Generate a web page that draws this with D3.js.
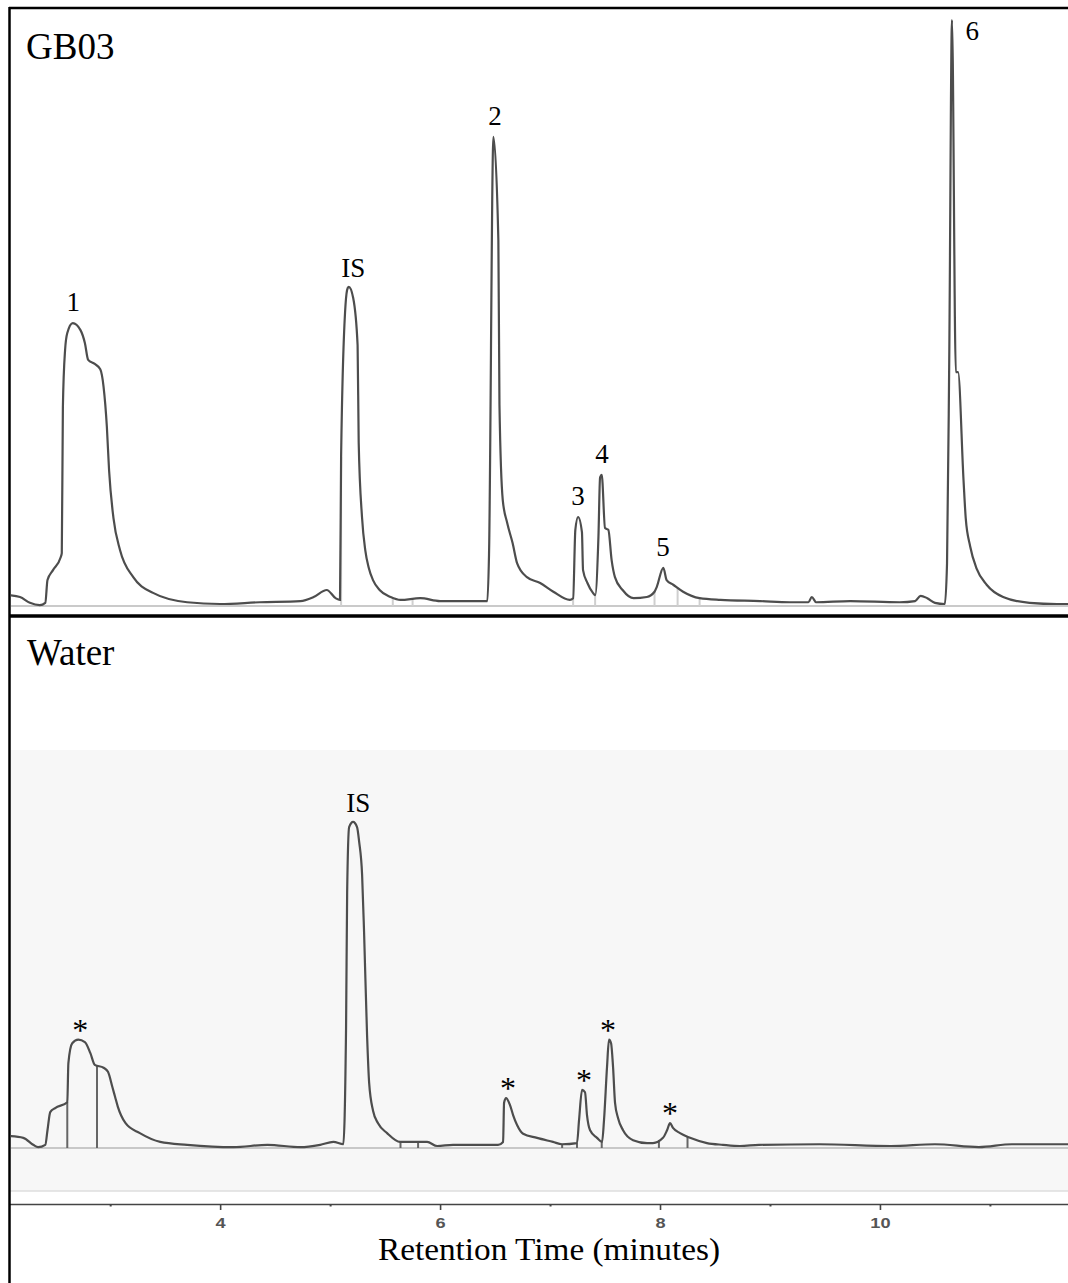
<!DOCTYPE html>
<html>
<head>
<meta charset="utf-8">
<script src="https://cdn.jsdelivr.net/npm/d3@7"></script>
<style>
body { margin: 0; background: #fff; }
svg { display: block; }
.serif { font-family: "Liberation Serif", "Times New Roman", serif; fill: #000; }
</style>
</head>
<body>
<svg id="chart" width="1068" height="1283"></svg>
<script>
// [retention time (min), signal]
const gb03Trace = [
    [2.08,1.5],[2.18,1.2],[2.27,0.2],[2.36,-0.2],[2.41,0.2],[2.43,4.1],[2.48,5.8],[2.55,8.0],[2.56,8.7],
    [2.57,33.7],[2.59,43.5],[2.61,46.4],[2.66,48.1],[2.73,46.9],[2.77,44.7],[2.80,41.8],[2.86,41.1],
    [2.91,40.2],[2.94,37.2],[2.97,30.3],[2.99,22.9],[3.03,14.7],[3.09,9.2],[3.21,4.6],[3.39,1.9],
    [3.70,0.3],[4.00,0],[4.36,0.3],[4.73,0.5],[4.85,1.2],[4.97,2.4],[5.05,1.0],[5.09,0.7],
    [5.10,25.2],[5.14,51.2],[5.16,54.1],[5.17,54.3],[5.21,52.4],[5.25,44.3],[5.26,27.6],[5.29,14.9],
    [5.32,9.2],[5.35,6.3],[5.39,4.1],[5.45,2.4],[5.55,1.2],[5.64,0.7],[5.82,1.0],[6.00,0.5],[6.27,0.5],
    [6.43,0.5],[6.445,8.4],[6.485,80.0],[6.53,62.3],[6.54,34.1],[6.57,17.8],[6.61,13.9],
    [6.66,10.4],[6.70,7.0],[6.79,4.6],[6.91,3.6],[7.03,2.1],[7.18,0.7],[7.21,1.0],[7.23,12.7],
    [7.255,14.9],[7.29,12.3],[7.30,5.8],[7.34,3.6],[7.39,1.9],[7.41,1.5],[7.44,11.5],[7.455,21.7],
    [7.47,22.1],[7.50,13.0],[7.53,12.7],[7.56,7.5],[7.59,4.6],[7.66,2.4],[7.76,1.0],[7.88,1.2],
    [7.95,2.1],[7.97,2.9],[8.03,6.2],[8.06,4.1],[8.12,3.3],[8.21,2.1],[8.36,1.0],[8.55,0.7],
    [8.91,0.5],[9.18,0.3],[9.35,0.3],[9.38,1.2],[9.42,0.3],[9.73,0.5],[10.18,0.3],[10.32,0.5],
    [10.37,1.4],[10.43,1.0],[10.50,0.2],[10.59,0],[10.61,7.0],[10.63,41.8],[10.655,100],
    [10.69,39.7],[10.71,39.7],[10.76,21.2],[10.78,14.7],[10.82,9.9],[10.88,6.0],[10.97,3.3],
    [11.12,1.2],[11.36,0.2],[11.61,0],[11.71,0]
];

const waterTrace = [
    [2.08,1.7],[2.21,1.4],[2.30,0.2],[2.345,-0.2],[2.41,0.2],[2.43,2.7],[2.455,5.8],[2.50,6.5],
    [2.61,7.5],[2.62,14.2],[2.655,17.6],[2.71,18.2],[2.77,17.8],[2.82,15.9],[2.86,13.9],[2.94,13.4],
    [2.98,12.7],[3.02,10.1],[3.045,8.4],[3.07,6.7],[3.14,3.9],[3.27,2.2],[3.455,0.7],[3.70,0.2],
    [4.12,-0.2],[4.43,0.2],[4.73,-0.2],[4.91,0.2],[5.03,0.7],[5.12,0.3],[5.145,20.2],[5.155,43.5],
    [5.173,54.6],[5.209,55.5],[5.245,54.6],[5.264,52.1],[5.291,46.4],[5.309,36.5],[5.336,19.0],
    [5.355,10.8],[5.391,6.0],[5.436,3.9],[5.518,2.2],[5.636,0.7],[5.755,0.7],[5.882,0.7],[5.973,0],
    [6.118,0.2],[6.364,0.2],[6.527,0.2],[6.573,0.7],[6.582,7.4],[6.60,8.2],[6.636,7.0],[6.664,5.3],
    [6.70,3.6],[6.755,2.1],[6.882,1.4],[7.027,0.7],[7.109,0.3],[7.245,0.5],[7.264,4.5],[7.291,9.6],
    [7.318,9.2],[7.336,5.3],[7.364,2.7],[7.427,1.4],[7.473,0.7],[7.491,4.5],[7.518,13.5],[7.536,18.2],
    [7.555,17.6],[7.573,13.5],[7.591,7.4],[7.618,4.8],[7.664,2.7],[7.755,1.0],[7.882,0.5],[7.936,0.5],
    [8.027,1.4],[8.064,2.7],[8.091,3.9],[8.118,3.1],[8.182,2.2],[8.273,1.4],[8.427,0.5],[8.573,0.2],
    [8.727,0],[8.90,0.2],[9.45,0.3],[10.10,0],[10.50,0.3],[10.90,-0.2],[11.20,0.3],[11.71,0.3]
];

// peak labels and where they sit (time, peak height)
const gb03Labels = ["1", "IS", "2", "3", "4", "5", "6"];
const gb03LabelPos = [[2.664,48.1],[5.21,54.3],[6.50,80],[7.255,14.9],[7.473,22.1],[8.027,6.2],[10.84,100]];
const waterLabels = ["*", "IS", "*", "*", "*", "*"];
const waterLabelPos = [[2.727,18.2],[5.255,55.5],[6.618,8.2],[7.309,9.6],[7.527,18.2],[8.091,3.9]];

// integration cut marks (minutes)
const gb03Cuts = [5.10, 5.57, 5.75, 7.21, 7.41, 7.95, 8.16, 8.36];
const waterCuts = [2.61, 2.88, 5.64, 5.80, 7.11, 7.245, 7.47, 7.99, 8.25];

const majorTicks = [4, 6, 8, 10];
const minorTicks = [3, 5, 7, 9, 11];

const left = 9, right = 1068;
let svg = d3.select("#chart");

let x = d3.scaleLinear().domain([2.08, 11.71]).range([left, right]);
let yTop = d3.scaleLinear().domain([0, 100]).range([604, 20]);
let yBot = d3.scaleLinear().domain([0, 100]).range([1146, 562]);

svg.append("defs").append("clipPath").attr("id", "plotclip")
    .append("rect").attr("x", left + 2).attr("y", 0).attr("width", right - left).attr("height", 1283);

// shaded area behind the water trace
svg.append("rect")
    .attr("x", left).attr("y", 750)
    .attr("width", right - left).attr("height", 441)
    .attr("fill", "#f7f7f7");
svg.append("line")
    .attr("x1", left).attr("x2", right).attr("y1", 1191).attr("y2", 1191)
    .attr("stroke", "#dedede").attr("stroke-width", 1.5);

function valueAt(trace, t) {
    let i = d3.bisector(d => d[0]).left(trace, t);
    if (i <= 0) return trace[0][1];
    if (i >= trace.length) return trace[trace.length - 1][1];
    let a = trace[i - 1], b = trace[i];
    let k = (t - a[0]) / (b[0] - a[0]);
    return a[1] + k * (b[1] - a[1]);
}

function drawPanel(trace, y, cuts, cutColor, labels, labelPos) {
    let g = svg.append("g").attr("clip-path", "url(#plotclip)");

    // baseline
    g.append("line")
        .attr("x1", left).attr("x2", right)
        .attr("y1", y(0) + 2).attr("y2", y(0) + 2)
        .attr("stroke", "#b8b8b8").attr("stroke-width", 1.5);

    g.selectAll(".cut")
        .data(cuts)
        .enter().append("line")
        .attr("x1", d => x(d)).attr("x2", d => x(d))
        .attr("y1", d => y(valueAt(trace, d)))
        .attr("y2", y(0) + 2)
        .attr("stroke", cutColor).attr("stroke-width", 2);

    let line = d3.line()
        .x(d => x(d[0]))
        .y(d => y(d[1]))
        .curve(d3.curveMonotoneX);

    g.append("path")
        .datum(trace)
        .attr("d", line)
        .attr("fill", "none")
        .attr("stroke", "#4d4d4d")
        .attr("stroke-width", 2.2)
        .attr("stroke-linejoin", "miter");

    svg.selectAll(null)
        .data(labels)
        .enter().append("text")
        .attr("class", "serif")
        .attr("font-size", d => d == "*" ? 32 : 27)
        .attr("text-anchor", "middle")
        .attr("x", (d, i) => x(labelPos[i][0]))
        .attr("y", (d, i) => {
            let py = y(labelPos[i][1]);
            if (d == "*") return py + 1;
            if (d == "6") return py + 20;
            if (d == "IS") return py - 10;
            return py - 12;
        })
        .text(d => d);
}

drawPanel(gb03Trace, yTop, gb03Cuts, "#cfcfcf", gb03Labels, gb03LabelPos);
drawPanel(waterTrace, yBot, waterCuts, "#666", waterLabels, waterLabelPos);

// panel names
svg.append("text").attr("class", "serif").attr("font-size", 37)
    .attr("x", 26).attr("y", 59).text("GB03");
svg.append("text").attr("class", "serif").attr("font-size", 37)
    .attr("x", 27).attr("y", 665).text("Water");

// x axis
let axisY = 1204;
let axis = d3.axisBottom(x)
    .tickValues(majorTicks)
    .tickSize(6)
    .tickSizeOuter(0)
    .tickFormat(d3.format("d"));

let ax = svg.append("g")
    .attr("transform", "translate(0," + axisY + ")")
    .call(axis);
ax.select(".domain").attr("stroke", "#444").attr("stroke-width", 1.6);
ax.selectAll(".tick line").attr("stroke", "#444").attr("stroke-width", 1.6);
ax.selectAll(".tick text")
    .attr("y", 14)
    .attr("font-family", "Liberation Sans, Arial, sans-serif")
    .attr("font-size", 14)
    .attr("font-weight", "bold")
    .attr("fill", "#555")
    .attr("transform", "scale(1.3,1)");

let minor = d3.axisBottom(x)
    .tickValues(minorTicks)
    .tickSize(2.5)
    .tickSizeOuter(0)
    .tickFormat("");
let mx = svg.append("g")
    .attr("transform", "translate(0," + axisY + ")")
    .call(minor);
mx.select(".domain").remove();
mx.selectAll(".tick line").attr("stroke", "#444").attr("stroke-width", 2);

svg.append("text")
    .attr("class", "serif")
    .attr("font-size", 31)
    .attr("text-anchor", "middle")
    .attr("x", 549).attr("y", 1260)
    .attr("textLength", 342)
    .attr("lengthAdjust", "spacingAndGlyphs")
    .text("Retention Time (minutes)");

// frame and panel separator
svg.append("line")
    .attr("x1", left).attr("x2", right).attr("y1", 8).attr("y2", 8)
    .attr("stroke", "#000").attr("stroke-width", 2.5);
svg.append("line")
    .attr("x1", left).attr("x2", right).attr("y1", 616).attr("y2", 616)
    .attr("stroke", "#000").attr("stroke-width", 3.5);
svg.append("line")
    .attr("x1", 9.5).attr("x2", 9.5).attr("y1", 7).attr("y2", 1283)
    .attr("stroke", "#000").attr("stroke-width", 2.5);
</script>
</body>
</html>
